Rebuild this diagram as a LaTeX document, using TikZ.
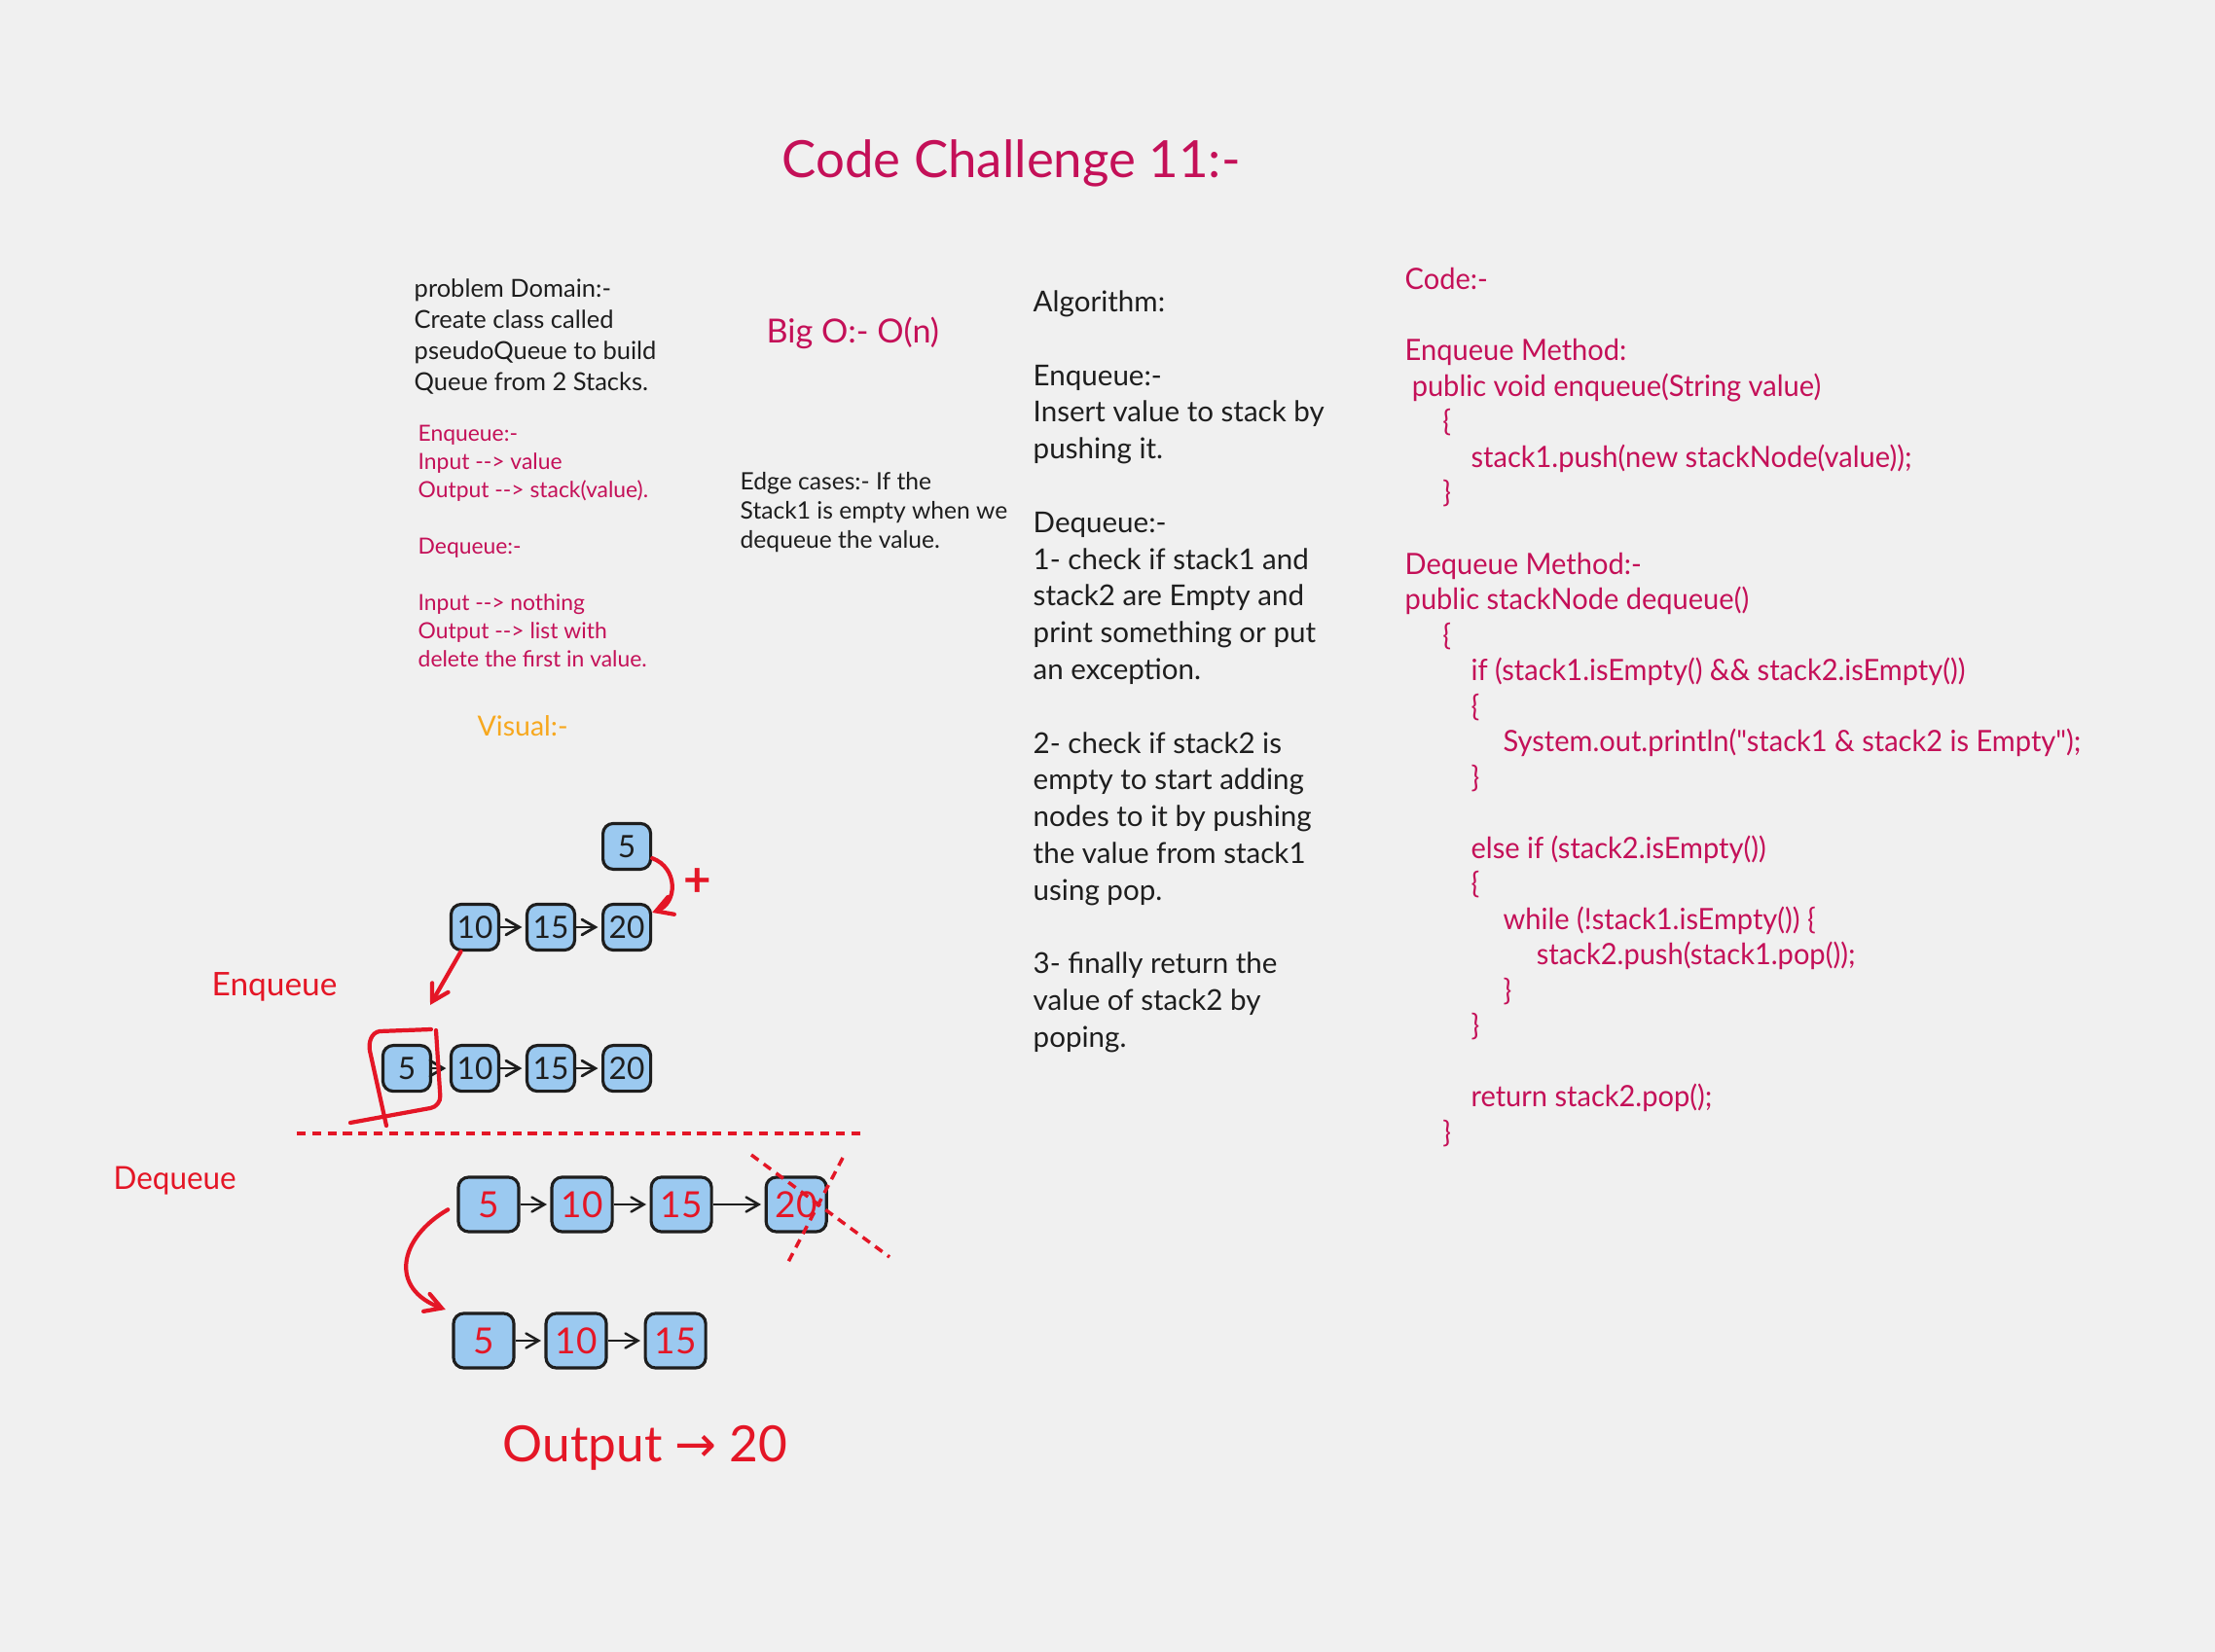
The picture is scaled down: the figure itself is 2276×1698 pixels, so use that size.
\documentclass[tikz,border=0pt]{standalone}
\usepackage{fontspec}
\setmainfont{Lato}
\newfontfamily\codefont[FakeStretch=0.96]{Lato}
\newfontfamily\symfont{DejaVu Sans}
\usetikzlibrary{arrows,positioning}

\definecolor{paper}{RGB}{240,240,240}
\definecolor{ink}{RGB}{30,30,30}
\definecolor{codepink}{RGB}{196,16,88}
\definecolor{markred}{RGB}{228,22,38}
\definecolor{visorange}{RGB}{247,168,30}
\definecolor{boxblue}{RGB}{155,201,240}

\begin{document}
\begin{tikzpicture}[x=0.01cm,y=-0.01cm,>=angle 60,node distance=0.78cm,
                    link/.style={->,draw=ink,line width=0.8pt,shorten >=1pt},
                    redpen/.style={draw=markred,line width=1.2pt,line cap=round},
                    cutline/.style={draw=markred,line width=1pt,dash pattern=on 2.6pt off 1.9pt}]
  \tikzstyle{listnode}=[draw=ink,fill=boxblue,line width=0.9pt,rounded corners=3pt,
                        minimum width=0.49cm,minimum height=0.47cm,inner sep=0pt,
                        text=ink,font=\fontsize{9}{9}\selectfont]
  \tikzstyle{bignode}=[listnode,minimum width=0.62cm,minimum height=0.56cm,
                       text=markred,font=\fontsize{10.5}{10.5}\selectfont]
  \tikzstyle{textblock}=[anchor=north west,inner sep=0pt,align=left]

  \fill[paper] (0,0) rectangle (2276,1698);
  \useasboundingbox (0,0) rectangle (2276,1698);

  % headings and notes
  \node[anchor=base west,inner sep=0pt,text=codepink,font=\fontsize{15}{15}\selectfont]
    (title) at (803,183) {Code Challenge 11:-};
  \node[textblock,text=ink,font=\fontsize{7.25}{9.1}\selectfont] (domain) at (425,286)
    {problem Domain:-\\Create class called\\pseudoQueue to build\\Queue from 2 Stacks.};
  \node[textblock,text=codepink,font=\fontsize{6.5}{8.25}\selectfont] (io) at (429,436)
    {Enqueue:-\\Input -{}-> value\\Output -{}-> stack(value).\\[8.25pt]
     Dequeue:-\\[8.25pt]
     Input -{}-> nothing\\Output -{}-> list with\\delete the first in value.};
  \node[anchor=base west,inner sep=0pt,text=codepink,font=\fontsize{9.7}{9.7}\selectfont]
    (bigo) at (787,353) {Big O:- O(n)};
  \node[textblock,text=ink,font=\fontsize{7}{8.5}\selectfont] (edgecase) at (760,485)
    {Edge cases:- If the\\Stack1 is empty when we\\dequeue the value.};
  \node[textblock,text=ink,font=\fontsize{8.4}{10.75}\selectfont] (algo) at (1061,298)
    {Algorithm:\\[10.75pt]
     Enqueue:-\\Insert value to stack by\\pushing it.\\[10.75pt]
     Dequeue:-\\1- check if stack1 and\\stack2 are Empty and\\print something or put\\an exception.\\[10.75pt]
     2- check if stack2 is\\empty to start adding\\nodes to it by pushing\\the value from stack1\\using pop.\\[10.75pt]
     3- finally return the\\value of stack2 by\\poping.};
  \node[textblock,text=codepink,font=\codefont\fontsize{8.6}{10.38}\selectfont] (code) at (1443,275)
    {Code:-\\[10.38pt]
     Enqueue Method:\\
     \hspace*{2pt}public void enqueue(String value)\\
     \hspace*{11pt}\{\\
     \hspace*{19.3pt}stack1.push(new stackNode(value));\\
     \hspace*{11pt}\}\\[10.38pt]
     Dequeue Method:-\\
     public stackNode dequeue()\\
     \hspace*{11pt}\{\\
     \hspace*{19.3pt}if (stack1.isEmpty() \&\& stack2.isEmpty())\\
     \hspace*{19.3pt}\{\\
     \hspace*{28.7pt}System.out.println("stack1 \& stack2 is Empty");\\
     \hspace*{19.3pt}\}\\[10.38pt]
     \hspace*{19.3pt}else if (stack2.isEmpty())\\
     \hspace*{19.3pt}\{\\
     \hspace*{28.7pt}while (!stack1.isEmpty()) \{\\
     \hspace*{38.4pt}stack2.push(stack1.pop());\\
     \hspace*{28.7pt}\}\\
     \hspace*{19.3pt}\}\\[10.38pt]
     \hspace*{19.3pt}return stack2.pop();\\
     \hspace*{11pt}\}};
  \node[anchor=base west,inner sep=0pt,text=visorange,font=\fontsize{8.1}{8.1}\selectfont]
    (visual) at (490,757) {Visual:-};
  \node[anchor=base west,inner sep=0pt,text=markred,font=\fontsize{9.5}{9.5}\selectfont]
    (enqlabel) at (217,1023) {Enqueue};
  \node[anchor=base west,inner sep=0pt,text=markred,font=\codefont\fontsize{9.3}{9.3}\selectfont]
    (deqlabel) at (116,1222) {Dequeue};

  % enqueue
  \node[listnode] (a10) at (488,953) {10};
  \node[listnode,right of=a10] (a15) {15};
  \node[listnode,right of=a15] (a20) {20};
  \node[listnode,node distance=0.83cm,above of=a20] (top5) {5};
  \node[listnode,node distance=1.45cm,below of=a10] (b10) {10};
  \node[listnode,node distance=0.70cm,left of=b10] (b5) {5};
  \node[listnode,right of=b10] (b15) {15};
  \node[listnode,right of=b15] (b20) {20};
  \node[text=markred,inner sep=0pt,font=\fontsize{14}{14}\selectfont\bfseries] (plus) at (717,907) {+};
  \coordinate (enqtip) at (442,1033);

  \path[link] (a10) edge (a15)
              (a15) edge (a20)
              (b5)  edge (b10)
              (b10) edge (b15)
              (b15) edge (b20);
  \draw[redpen,->] (top5.-25) to[bend left=70,looseness=1.3] (a20.30);
  \draw[redpen,->] (a10.240) -- (enqtip);
  \draw[redpen] (443,1058) -- (390,1060) to[out=190,in=100] (380,1080) -- (397,1157);
  \draw[redpen,rounded corners=3pt] (448,1059) -- (453,1137) -- (360,1154);

  \draw[cutline] (305,1165) -- (884,1165);

  % dequeue
  \node[bignode] (c5) at (502,1238) {5};
  \node[bignode,node distance=0.96cm,right of=c5] (c10) {10};
  \node[bignode,node distance=1.02cm,right of=c10] (c15) {15};
  \node[bignode,node distance=1.18cm,right of=c15] (c20) {20};
  \node[bignode] (d5) at (497,1378) {5};
  \node[bignode,node distance=0.95cm,right of=d5] (d10) {10};
  \node[bignode,node distance=1.02cm,right of=d10] (d15) {15};

  \path[link,line width=0.7pt] (c5)  edge (c10)
                               (c10) edge (c15)
                               (c15) edge (c20)
                               (d5)  edge (d10)
                               (d10) edge (d15);
  \draw[cutline] (772,1187) -- (914,1292);
  \draw[cutline] (866,1190) -- (810,1297);
  \draw[redpen,->,shorten <=3pt,shorten >=2pt] (c5.west) to[out=210,in=160,looseness=1.6] (d5.north west);

  \node[anchor=base west,inner sep=0pt,text=markred,font=\fontsize{14.6}{14.6}\selectfont]
    (output) at (516,1502) {Output {\symfont →} 20};
\end{tikzpicture}
\end{document}
